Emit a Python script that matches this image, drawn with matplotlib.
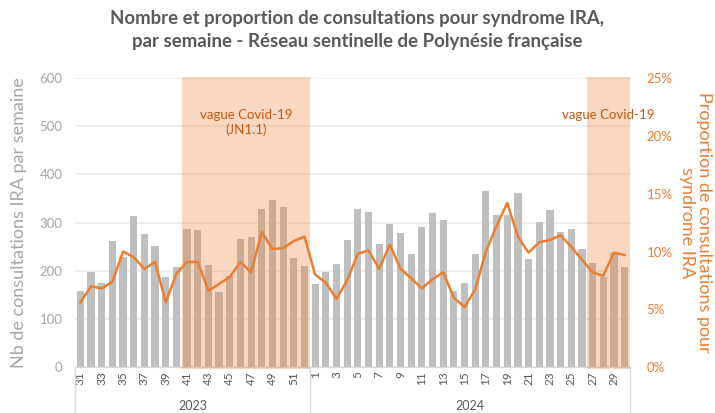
import matplotlib.pyplot as plt
from matplotlib.ticker import FuncFormatter, MultipleLocator
import matplotlib.transforms as mtransforms

# semaines (2023 : S31-S52, 2024 : S1-S30)
semaines_2023 = list(range(31, 53))
semaines_2024 = list(range(1, 31))
semaines = semaines_2023 + semaines_2024

# nb de consultations IRA par semaine
nb_ira = [158, 198, 175, 262, 229, 313, 276, 251, 187, 208, 286, 284, 212, 156,
          189, 266, 270, 329, 346, 332, 227, 209,
          172, 197, 214, 264, 329, 323, 255, 297, 278, 235, 291, 320, 306, 158,
          174, 235, 365, 316, 316, 362, 225, 302, 327, 280, 286, 246, 217, 188,
          237, 208]

# proportion de consultations pour syndrome IRA (%)
prop_ira = [5.6, 7.0, 6.8, 7.4, 10.0, 9.5, 8.5, 9.1, 5.6, 8.1, 9.1, 9.1, 6.6, 7.2,
            7.8, 9.1, 8.2, 11.7, 10.2, 10.3, 10.9, 11.3,
            8.0, 7.3, 5.9, 7.5, 9.8, 10.1, 8.5, 10.6, 8.5, 7.7, 6.8, 7.6, 8.2, 6.0,
            5.2, 6.7, 10.0, 12.2, 14.2, 11.3, 9.9, 10.8, 11.0, 11.4, 10.4, 9.3,
            8.2, 7.9, 9.9, 9.7]

# vagues Covid-19 : (annee, semaine debut, annee, semaine fin)
vagues = [((2023, 41), (2023, 52), "vague Covid-19\n(JN1.1)"),
          ((2024, 27), (2024, 30), "vague Covid-19")]

plt.rcParams['font.family'] = ['Lato', 'DejaVu Sans']

gris = '#BFBFBF'
orange = '#ED7D31'
texte_gris = '#595959'

fig = plt.figure(figsize=(7.15, 4.13), dpi=100)
ax = fig.add_axes([0.105, 0.111, 0.776, 0.700])
x = list(range(len(semaines)))

ax.bar(x, nb_ira, width=0.68, color=gris, zorder=2)
ax.set_ylim(0, 600)
ax.set_xlim(-0.5, len(semaines) - 0.5)
ax.yaxis.set_major_locator(MultipleLocator(100))
ax.grid(axis='y', color='#EBEBEB', linewidth=1.2, zorder=0)
ax.set_axisbelow(True)
for s in ['top', 'right', 'left']:
    ax.spines[s].set_visible(False)
ax.spines['bottom'].set_color('#D9D9D9')
ax.tick_params(axis='y', length=0, colors='#A6A6A6', labelsize=9.5, pad=9)
ax.set_ylabel('Nb de consultations IRA par semaine', color='#A6A6A6',
              fontsize=13, labelpad=9)

# etiquettes semaines (une sur deux)
ax.set_xticks(x[::2])
ax.set_xticklabels([str(s) for s in semaines[::2]], rotation=90,
                   fontsize=8.5, color=texte_gris)
ax.tick_params(axis='x', length=0, pad=3)


def indice(annee, sem):
    if annee == 2023:
        return semaines_2023.index(sem)
    return len(semaines_2023) + semaines_2024.index(sem)


# zones vagues Covid
for (a1, s1), (a2, s2), lab in vagues:
    i1, i2 = indice(a1, s1), indice(a2, s2)
    ax.axvspan(i1 - 0.5, i2 + 0.5, ymin=-0.006, ymax=1.005, color=orange,
               alpha=0.3, lw=0, zorder=3, clip_on=False)
    xc = (i1 + i2) / 2 if i2 - i1 > 5 else i1 + 1.5
    ax.text(xc, 535, lab, ha='center', va='top', color='#C55A11',
            fontsize=9.5, zorder=5)

# separateurs annees + libelles
trans = mtransforms.blended_transform_factory(ax.transData, ax.transAxes)
n23 = len(semaines_2023)
for xs in [-0.5, n23 - 0.5, len(semaines) - 0.5]:
    ax.plot([xs, xs], [0, -0.16], color='#D9D9D9', lw=1, transform=trans,
            clip_on=False)
ax.text((n23 - 1) / 2, -0.135, '2023', transform=trans, ha='center',
        va='center', fontsize=9, color=texte_gris)
ax.text(n23 + (len(semaines_2024) - 1) / 2, -0.135, '2024', transform=trans,
        ha='center', va='center', fontsize=9, color=texte_gris)

# proportion (axe droit)
ax2 = ax.twinx()
ax2.plot(x, prop_ira, color=orange, lw=1.8, zorder=5)
ax2.set_ylim(0, 25)
ax2.yaxis.set_major_locator(MultipleLocator(5))
ax2.yaxis.set_major_formatter(FuncFormatter(lambda v, p: f'{v:.0f}%'))
for s in ['top', 'right', 'left', 'bottom']:
    ax2.spines[s].set_visible(False)
ax2.tick_params(axis='y', length=0, colors=orange, labelsize=9.5, pad=12)
ax2.set_ylabel('Proportion de consultations pour\nsyndrome IRA', color=orange,
               fontsize=13, rotation=-90, labelpad=28, linespacing=1.05)

fig.suptitle('Nombre et proportion de consultations pour syndrome IRA,\n'
             'par semaine - Réseau sentinelle de Polynésie française',
             fontsize=13.4, fontweight='bold', color=texte_gris, y=0.975,
             linespacing=1.4)

plt.savefig('out.png', dpi=100)
